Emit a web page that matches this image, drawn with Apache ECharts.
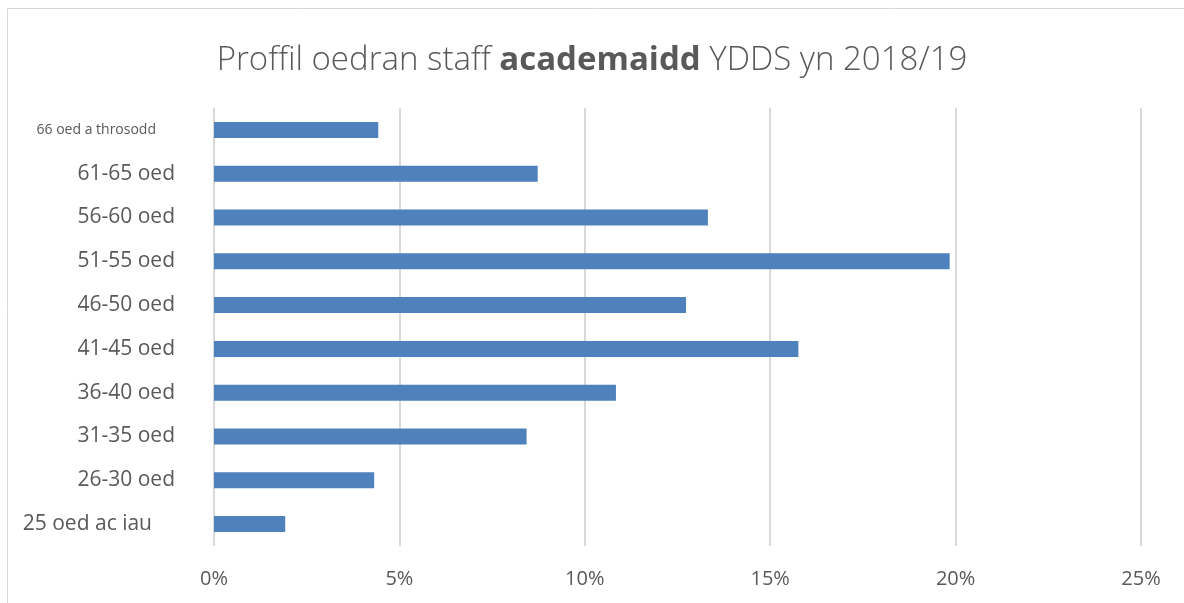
<!DOCTYPE html>
<html><head><meta charset="utf-8">
<script src="https://cdn.jsdelivr.net/npm/echarts@6/dist/echarts.min.js"></script>
<style>html,body{margin:0;padding:0;background:#fff}#c{width:1184px;height:603px}</style>
</head><body><div id="c"></div>
<script>
const categories = ['25 oed ac iau','26-30 oed','31-35 oed','36-40 oed','41-45 oed','46-50 oed','51-55 oed','56-60 oed','61-65 oed','66 oed a throsodd'];
const values = [1.92, 4.32, 8.43, 10.84, 15.76, 12.73, 19.84, 13.32, 8.73, 4.43];
const xTicks = [0, 5, 10, 15, 20, 25];

const chart = echarts.init(document.getElementById('c'));
const font = 'Open Sans';
chart.setOption({
  animation: false,
  title: {
    text: '{n|Proffil oedran staff }{b|academaidd}{n| YDDS yn 2018/19}',
    left: 'center', top: 39,
    textStyle: {
      rich: {
        n: { fontFamily: font, fontSize: 33, color: '#595959', fontWeight: 300 },
        b: { fontFamily: font, fontSize: 33, color: '#595959', fontWeight: 'bold' }
      }
    }
  },
  graphic: [{
    type: 'rect', shape: { x: 7.5, y: 8.5, width: 1190, height: 610 },
    style: { fill: 'none', stroke: '#d9d9d9', lineWidth: 1 }, silent: true
  }],
  grid: { left: 214, right: 43, top: 108, height: 438, containLabel: false },
  xAxis: {
    type: 'value', min: xTicks[0], max: xTicks[xTicks.length - 1], interval: 5,
    axisLine: { show: false }, axisTick: { show: false },
    splitLine: { lineStyle: { color: '#d9d9d9', width: 2 } },
    axisLabel: { formatter: v => v + '%', color: '#595959', fontFamily: font, fontSize: 20, margin: 23 }
  },
  yAxis: {
    type: 'category', data: categories,
    axisLine: { show: false }, axisTick: { show: false },
    axisLabel: {
      color: '#595959', fontFamily: font, fontSize: 21, margin: 39,
      formatter: v => v === '66 oed a throsodd' ? '{s|' + v + '}' : (v === '25 oed ac iau' ? '{m|' + v + '}' : v),
      rich: {
        s: { fontFamily: font, fontSize: 14, color: '#595959', padding: [0, 19, 0, 0] },
        m: { fontFamily: font, fontSize: 21, color: '#595959', padding: [0, 23, 0, 0] }
      }
    }
  },
  series: [{
    type: 'bar', data: values, barWidth: 16,
    itemStyle: { color: '#4F81BD' }
  }]
});
</script></body></html>
